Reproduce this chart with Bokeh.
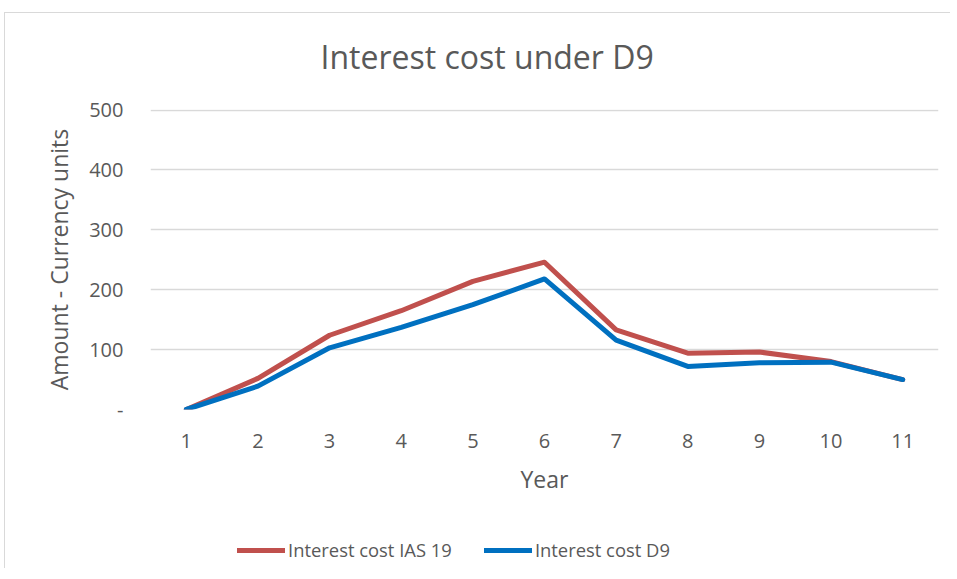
from bokeh.plotting import figure
from bokeh.models import Range1d, FixedTicker, Legend, LegendItem
from bokeh.layouts import column
from bokeh.embed import file_html
from bokeh.resources import INLINE

years = [1, 2, 3, 4, 5, 6, 7, 8, 9, 10, 11]
ias19 = [0, 52, 124, 165, 214, 246, 133, 94, 96, 80, 50]
d9 = [0, 39, 103, 137, 175, 218, 116, 72, 78, 79, 50]
y_ticks = [0, 100, 200, 300, 400, 500]
series_names = ["Interest cost IAS 19", "Interest cost D9"]
series_values = [ias19, d9]
series_colors = ["#C0504D", "#0070C0"]

FONT = "Open Sans"
TXT = "#595959"
GRID = "#D9D9D9"

p = figure(width=945, height=513, output_backend="svg", toolbar_location=None,
           x_range=Range1d(0.5, 11.5), y_range=Range1d(0, 501),
           min_border_left=145, min_border_right=12, min_border_top=109,
           min_border_bottom=104)
p.styles = {"margin-top": "-13px"}
p.outline_line_color = None
p.background_fill_color = "white"
p.border_fill_alpha = 0

p.title.text = "Interest cost under D9"
p.title.text_font = FONT
p.title.text_font_size = "32px"
p.title.text_font_style = "normal"
p.title.text_color = TXT
p.title.align = "left"
p.title.offset = 170
p.title.standoff = 64

for vals, col in zip(series_values, series_colors):
    p.line(years, vals, line_color=col, line_width=5,
           line_cap="round", line_join="round")

p.xgrid.grid_line_color = None
p.ygrid.grid_line_color = GRID
p.ygrid.grid_line_width = 1.3
p.ygrid.ticker = FixedTicker(ticks=y_ticks)

p.yaxis.ticker = FixedTicker(ticks=y_ticks)
p.yaxis.major_label_overrides = {0: "-"}
p.xaxis.ticker = FixedTicker(ticks=years)
for ax in (p.xaxis, p.yaxis):
    ax.axis_line_color = None
    ax.major_tick_line_color = None
    ax.minor_tick_line_color = None
    ax.major_label_text_font = FONT
    ax.major_label_text_font_size = "20px"
    ax.major_label_text_color = TXT
    ax.axis_label_text_font = FONT
    ax.axis_label_text_font_size = "23px"
    ax.axis_label_text_font_style = "normal"
    ax.axis_label_text_color = TXT

p.xaxis.axis_label = "Year"
p.yaxis.axis_label = "Amount - Currency units"
p.yaxis.major_label_standoff = 21
p.xaxis.major_label_standoff = 18
p.yaxis.axis_label_standoff = 11
p.xaxis.axis_label_standoff = 12

# legend strip below the chart (proxy renderers lie outside its ranges)
p2 = figure(width=945, height=55, output_backend="svg", toolbar_location=None,
            x_range=Range1d(100, 101), y_range=Range1d(100, 101),
            x_axis_location=None, y_axis_location=None,
            min_border_left=0, min_border_right=0, min_border_top=0,
            min_border_bottom=0)
p2.grid.visible = False
p2.outline_line_color = None
p2.border_fill_alpha = 0
p2.background_fill_alpha = 0
items = []
for name, vals, col in zip(series_names, series_values, series_colors):
    r = p2.line(x=years[:1], y=vals[:1], line_color=col, line_width=5,
                line_cap="round")
    items.append(LegendItem(label=name, renderers=[r]))
legend = Legend(items=items, orientation="horizontal", location=(87, 6),
                glyph_width=48, glyph_height=20, label_standoff=3, spacing=32,
                padding=0, margin=0, border_line_color=None,
                background_fill_alpha=0,
                label_text_font=FONT, label_text_font_size="18.4px",
                label_text_color=TXT)
p2.add_layout(legend, "center")

layout = column(p, p2, spacing=0)
layout.styles = {"margin-left": "4px", "margin-top": "12px",
                 "border-left": "1px solid #D9D9D9", "border-top": "1px solid #D9D9D9"}

open("out.html", "w").write(file_html(layout, INLINE))
